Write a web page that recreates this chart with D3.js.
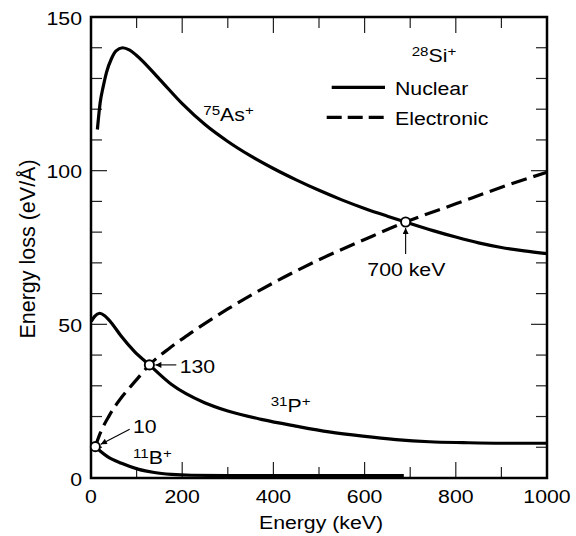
<!DOCTYPE html>
<html>
<head>
<meta charset="utf-8">
<script src="https://cdn.jsdelivr.net/npm/d3@7"></script>
<style>
  body { margin: 0; background: #fff; }
  text { font-family: "Liberation Sans", Arial, sans-serif; fill: #000; }
</style>
</head>
<body>
<div id="chart"></div>
<script>
    var width = 576,
        height = 536;

// data: energy (keV) / energy loss (eV/A)

    var xTicks = [0, 200, 400, 600, 800, 1000];
    var yTicks = [0, 50, 100, 150];

    var asE = [14, 20, 27, 34, 45, 55, 69, 85, 100, 150, 200, 250, 300, 350, 400, 450, 500, 550, 600, 650, 690, 750, 800, 850, 900, 950, 1000];
    var asS = [113.4, 122, 127.5, 132, 136.5, 139, 140, 139.2, 137.5, 129.8, 121.8, 115, 109.5, 104.8, 100.7, 97, 93.6, 90.5, 87.7, 85.2, 83.3, 80.5, 78.4, 76.5, 75, 73.9, 73];

    var pE = [0.5, 8, 19, 30, 44, 66, 95, 128, 176, 249, 300, 376, 449, 522, 596, 669, 742, 816, 900, 1000];
    var pS = [50.9, 52.6, 53.6, 52.8, 50.6, 46.2, 41.2, 36.8, 30.5, 24.5, 21.8, 19, 16.9, 15, 13.6, 12.5, 11.8, 11.5, 11.3, 11.3];

    var bE = [9.5, 20, 37, 67, 103, 139, 176, 220, 300, 400, 500, 600, 686];
    var bS = [10.2, 8.8, 6.9, 4.8, 2.9, 1.8, 1.2, 0.9, 0.8, 0.8, 0.8, 0.8, 0.8];

    var elE = [9.5, 20, 40, 70, 100, 128, 170, 220, 300, 400, 500, 600, 690, 800, 900, 1000];
    var elS = [10.2, 14.5, 20.3, 26.8, 32, 36.8, 42, 47.3, 55, 63.5, 71, 77.6, 83.3, 89.2, 94.6, 99.5];

    // crossing points marked with open circles
    var crossE = [9.5, 128, 690];
    var crossS = [10.2, 36.8, 83.3];

    var svg = d3.select("#chart").append("svg")
        .attr("width", width)
        .attr("height", height);

    var x = d3.scaleLinear().domain([0, 1000]).range([91, 547]);
    var y = d3.scaleLinear().domain([0, 150]).range([478, 17]);

    var sx = 1.12; // text in the picture is a bit wider than Arial

    function label(tx, ty, parts, anchor) {
        var t = svg.append("text")
            .attr("transform", "translate(" + tx + "," + ty + ") scale(" + sx + ",1)")
            .style("font-size", "19px")
            .style("text-anchor", anchor || "start");
        parts.forEach(function (p) {
            var s = t.append("tspan").text(p[0]);
            if (p[1] === "sup") s.style("font-size", "13.5px").attr("dy", -6);
            else if (p[1] === "down") s.attr("dy", 6);
        });
        return t;
    }

    // ticks
    var minorX = d3.range(0, 1001, 100),
        minorY = d3.range(0, 151, 10);
    var tk = svg.append("g").attr("stroke", "#222").attr("stroke-width", 1.2);
    minorX.forEach(function (v) {
        var len = v % 200 === 0 ? 16 : 11;
        tk.append("line").attr("x1", x(v)).attr("x2", x(v)).attr("y1", y(0)).attr("y2", y(0) - len);
        tk.append("line").attr("x1", x(v)).attr("x2", x(v)).attr("y1", y(150)).attr("y2", y(150) + len);
    });
    minorY.forEach(function (v) {
        var len = v % 50 === 0 ? 16 : 11;
        tk.append("line").attr("y1", y(v)).attr("y2", y(v)).attr("x1", x(0)).attr("x2", x(0) + len);
        tk.append("line").attr("y1", y(v)).attr("y2", y(v)).attr("x1", x(1000)).attr("x2", x(1000) - len);
    });

    // frame
    svg.append("rect")
        .attr("x", x(0)).attr("y", y(150))
        .attr("width", x(1000) - x(0)).attr("height", y(0) - y(150))
        .attr("fill", "none").attr("stroke", "#000").attr("stroke-width", 2.5);

    xTicks.forEach(function (v) { label(x(v), 503, [[String(v)]], "middle"); });
    yTicks.forEach(function (v) { label(82, y(v) + 7.5, [[String(v)]], "end"); });

    label(321, 529, [["Energy (keV)"]], "middle");
    svg.append("text")
        .attr("transform", "translate(35,249) rotate(-90)")
        .style("font-size", "21.5px")
        .style("text-anchor", "middle")
        .text("Energy loss (eV/Å)");

    // curves
    var line = d3.line()
        .x(function (d) { return x(d[0]); })
        .y(function (d) { return y(d[1]); })
        .curve(d3.curveMonotoneX);

    function pairs(a, b) { return a.map(function (v, i) { return [v, b[i]]; }); }

    svg.append("path").datum(pairs(elE, elS)).attr("d", line)
        .attr("fill", "none").attr("stroke", "#000").attr("stroke-width", 3.2)
        .attr("stroke-dasharray", "16,7");

    [pairs(asE, asS), pairs(pE, pS), pairs(bE, bS)].forEach(function (d) {
        svg.append("path").datum(d).attr("d", line)
            .attr("fill", "none").attr("stroke", "#000").attr("stroke-width", 3.2);
    });

    // legend
    svg.append("line").attr("x1", 331.7).attr("x2", 385).attr("y1", 87.3).attr("y2", 87.3)
        .attr("stroke", "#000").attr("stroke-width", 3.2);
    svg.append("line").attr("x1", 326.7).attr("x2", 385).attr("y1", 117.3).attr("y2", 117.3)
        .attr("stroke", "#000").attr("stroke-width", 3.2).attr("stroke-dasharray", "15,6");
    label(395, 95, [["Nuclear"]]);
    label(395, 125, [["Electronic"]]);

    // labels
    label(411.7, 61.7, [["28", "sup"], ["Si", "down"], ["+", "sup"]]);
    label(203.3, 121, [["75", "sup"], ["As", "down"], ["+", "sup"]]);
    label(270.7, 411.7, [["31", "sup"], ["P", "down"], ["+", "sup"]]);
    label(133, 464, [["11", "sup"], ["B", "down"], ["+", "sup"]]);
    label(367.3, 276, [["700 keV"]]);
    label(179.7, 372.7, [["130"]]);
    label(133, 433.3, [["10"]]);

    // arrows
    var defs = svg.append("defs");
    defs.append("marker").attr("id", "ah")
        .attr("viewBox", "0 0 10 10").attr("refX", 10).attr("refY", 5)
        .attr("markerWidth", 8).attr("markerHeight", 6).attr("markerUnits", "userSpaceOnUse")
        .attr("orient", "auto")
        .append("path").attr("d", "M0,0L10,5L0,10z").attr("fill", "#000");

    var cx = crossE.map(x), cy = crossS.map(y);
    var arrows = [
        [129.7, 429.3, cx[0] + 5.5, cy[0] - 2.5],
        [176.3, cy[1], cx[1] + 6, cy[1]],
        [cx[2], 254, cx[2], cy[2] + 6]
    ];
    arrows.forEach(function (a) {
        svg.append("line").attr("x1", a[0]).attr("y1", a[1]).attr("x2", a[2]).attr("y2", a[3])
            .attr("stroke", "#000").attr("stroke-width", 1.1).attr("marker-end", "url(#ah)");
    });

    svg.selectAll("circle.cross").data(crossE).enter().append("circle")
        .attr("class", "cross")
        .attr("cx", function (d, i) { return cx[i]; })
        .attr("cy", function (d, i) { return cy[i]; })
        .attr("r", 4.6)
        .attr("fill", "#fff").attr("stroke", "#000").attr("stroke-width", 1.9);
</script>
</body>
</html>
